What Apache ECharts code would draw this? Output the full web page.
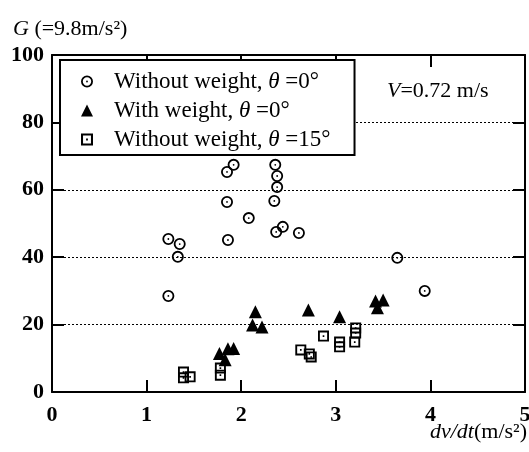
<!DOCTYPE html>
<html>
<head>
<meta charset="utf-8">
<script src="https://cdn.jsdelivr.net/npm/echarts@6/dist/echarts.min.js"></script>
<style>
  html, body { margin: 0; padding: 0; background: #fff; }
  #chart { width: 529px; height: 452px; }
</style>
</head>
<body>
<div id="chart"></div>
<script>
// dv/dt (m/s^2) , G
var noWeight0 = [
  [1.23, 45.4], [1.35, 43.9], [1.33, 40.1], [1.23, 28.5],
  [1.85, 65.3], [1.92, 67.4], [1.85, 56.4], [1.86, 45.1],
  [2.08, 51.6], [2.36, 67.4], [2.38, 64.1], [2.38, 60.8],
  [2.35, 56.7], [2.37, 47.5], [2.44, 49.0], [2.61, 47.2],
  [3.65, 39.8], [3.94, 30.0]
]
var withWeight0 = [
  [1.77, 11.4], [1.83, 9.6], [1.86, 12.8], [1.92, 12.9],
  [2.15, 23.8], [2.12, 19.9], [2.22, 19.3], [2.71, 24.3],
  [3.04, 22.3], [3.42, 27.0], [3.50, 27.3], [3.44, 25.0]
]
var noWeight15 = [
  [1.39, 5.9], [1.46, 4.5], [1.39, 4.2], [1.78, 7.1],
  [1.78, 5.0], [2.63, 12.5], [2.72, 11.3], [2.74, 10.4],
  [2.87, 16.6], [3.04, 14.8], [3.04, 13.4], [3.21, 19.0],
  [3.21, 17.5], [3.20, 14.8]
]
var seriesNames = ['Without weight, θ =0°', 'With weight, θ =0°', 'Without weight, θ =15°']
var xTicks = [0, 1, 2, 3, 4, 5]
var yTicks = [0, 20, 40, 60, 80, 100]

var serif = 'Liberation Serif'
// ring + centre dot, drawn as holes so overlapping marks show through
var ringDot = 'path://M10 0A10 10 0 1 1 10 20A10 10 0 1 1 10 0ZM10 3A7 7 0 1 0 10 17A7 7 0 1 0 10 3ZM10 8.5A1.5 1.5 0 1 1 10 11.5A1.5 1.5 0 1 1 10 8.5Z'
var squareDot = 'path://M0 0L20 0L20 20L0 20ZM3.4 3.4L3.4 16.6L16.6 16.6L16.6 3.4ZM8.5 8.5L11.5 8.5L11.5 11.5L8.5 11.5Z'

var legendRich = {
  f: { fontFamily: serif, fontSize: 23, color: '#000', padding: [0, 0, 0, 16] },
  a: { fontFamily: serif, fontSize: 23, color: '#000' },
  t: { fontFamily: serif, fontSize: 23, color: '#000', fontStyle: 'italic' }
}

var chart = echarts.init(document.getElementById('chart'))

var baseX = {
  type: 'value', min: 0, max: 5, interval: 1,
  axisLine: { show: true, onZero: false, lineStyle: { color: '#000', width: 2 } },
  axisTick: { show: true, inside: true, length: 12, lineStyle: { color: '#000', width: 2 } },
  splitLine: { show: false }
}
var baseY = {
  type: 'value', min: 0, max: 100, interval: 20,
  axisLine: { show: true, onZero: false, lineStyle: { color: '#000', width: 2 } },
  axisTick: { show: true, inside: true, length: 12, lineStyle: { color: '#000', width: 2 } }
}

chart.setOption({
  animation: false,
  backgroundColor: '#fff',
  grid: { left: 52, right: 4, top: 55, bottom: 60, outerBoundsMode: 'none', containLabel: false },
  xAxis: [
    Object.assign({}, baseX, {
      position: 'bottom',
      axisLabel: {
        margin: 12, color: '#000', fontFamily: serif, fontSize: 22, fontWeight: 'bold',
        formatter: function (v) { return xTicks.indexOf(v) >= 0 ? String(v) : '' }
      }
    }),
    Object.assign({}, baseX, { position: 'top', axisLabel: { show: false } })
  ],
  yAxis: [
    Object.assign({}, baseY, {
      position: 'left',
      axisLabel: {
        margin: 8, color: '#000', fontFamily: serif, fontSize: 22, fontWeight: 'bold',
        formatter: function (v) { return yTicks.indexOf(v) >= 0 ? String(v) : '' }
      },
      splitLine: { show: true, lineStyle: { color: '#000', width: 1, type: [2, 2] } }
    }),
    Object.assign({}, baseY, { position: 'right', axisLabel: { show: false }, splitLine: { show: false } })
  ],
  legend: {
    orient: 'vertical',
    left: 60,
    top: 60,
    data: seriesNames,
    backgroundColor: '#fff',
    borderColor: '#000',
    borderWidth: 2,
    borderRadius: 0,
    padding: [9, 24, 3, 21],
    itemWidth: 12,
    itemHeight: 12,
    itemGap: 4,
    selectedMode: false,
    textStyle: { fontFamily: serif, fontSize: 23, lineHeight: 25, color: '#000', rich: legendRich },
    formatter: function (name) {
      if (name === seriesNames[0]) return '{f|Without weight, }{t|θ}{a| =0°}'
      if (name === seriesNames[1]) return '{f|With weight, }{t|θ}{a| =0°}'
      return '{f|Without weight, }{t|θ}{a| =15°}'
    }
  },
  graphic: [
    {
      type: 'text', left: 13, top: 18,
      style: {
        text: '{i|G} (=9.8m/s²)',
        font: '22px "Liberation Serif"', fill: '#000',
        rich: { i: { fontStyle: 'italic', fontFamily: serif, fontSize: 22 } }
      }
    },
    {
      type: 'text', left: 387, top: 80,
      style: {
        text: '{i|V}=0.72 m/s',
        font: '22px "Liberation Serif"', fill: '#000',
        rich: { i: { fontStyle: 'italic', fontFamily: serif, fontSize: 22 } }
      }
    },
    {
      type: 'text', right: 2, top: 421,
      style: {
        text: '{i|dv/dt}(m/s²)',
        font: '22px "Liberation Serif"', fill: '#000',
        rich: { i: { fontStyle: 'italic', fontFamily: serif, fontSize: 22 } }
      }
    }
  ],
  series: [
    {
      name: seriesNames[0], type: 'scatter', data: noWeight0,
      symbol: ringDot, symbolSize: 12,
      itemStyle: { color: '#000', opacity: 1 }
    },
    {
      name: seriesNames[1], type: 'scatter', data: withWeight0,
      symbol: 'triangle', symbolSize: 13,
      itemStyle: { color: '#000', opacity: 1 }
    },
    {
      name: seriesNames[2], type: 'scatter', data: noWeight15,
      symbol: squareDot, symbolSize: 11,
      itemStyle: { color: '#000', opacity: 1 }
    }
  ]
})
</script>
</body>
</html>
